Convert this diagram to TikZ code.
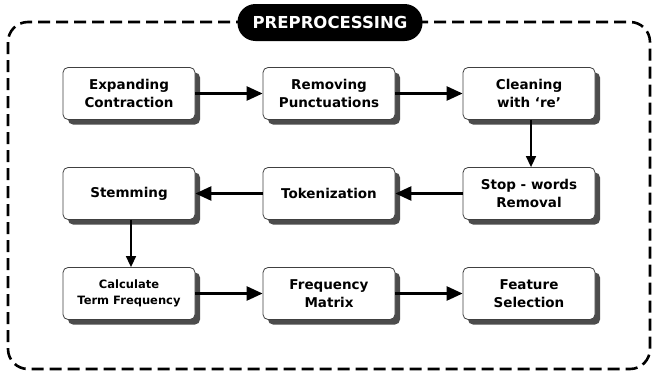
\documentclass[tikz,border=0pt]{standalone}
\usepackage{fontspec}
\setmainfont{DejaVu Sans}
\usetikzlibrary{arrows.meta,shadows,positioning}

\tikzset{
  stepbox/.style={draw=black!75, line width=0.8pt, fill=white, rounded corners=5pt,
    minimum width=132pt, minimum height=52pt, align=center,
    font=\bfseries\fontsize{13.5}{17.5}\selectfont,
    drop shadow={shadow xshift=5pt, shadow yshift=-5pt, fill=black!70, opacity=1}},
  flowh/.style={line width=2.6pt, -{Triangle[length=16pt,width=14pt]}},
  flowv/.style={line width=1.5pt, -{Triangle[length=11pt,width=10pt]}},
  frame/.style={line width=2.6pt, dash pattern=on 12pt off 6pt, rounded corners=20pt},
  titlepill/.style={fill=black, text=white, rounded corners=18pt,
    minimum width=185pt, minimum height=37pt, inner sep=0pt,
    font=\bfseries\fontsize{16.5}{19}\selectfont}
}

\begin{document}
\begin{tikzpicture}[x=1pt,y=-1pt]
  \useasboundingbox (0,0) rectangle (653,375);

  % outer dashed frame and its title
  \draw[frame] (8,22) rectangle (650,369);
  \node[titlepill] (title) at (330,22.5) {PREPROCESSING};

  % first row
  \node[stepbox] (expand) at (129,93.5) {Expanding\\Contraction};
  \node[stepbox] (punct)  at (329,93.5) {Removing\\Punctuations};
  \node[stepbox] (clean)  at (529,93.5) {Cleaning\\with ‘re’};

  % second row
  \node[stepbox] (stem)   at (129,193.5) {Stemming};
  \node[stepbox] (token)  at (329,193.5) {Tokenization};
  \node[stepbox] (stop)   at (529,193.5) {Stop - words\\Removal};

  % third row
  \node[stepbox, font=\bfseries\fontsize{11.5}{15.5}\selectfont] (calc) at (129,293.5) {Calculate\\Term Frequency};
  \node[stepbox] (matrix) at (329,293.5) {Frequency\\Matrix};
  \node[stepbox] (select) at (529,293.5) {Feature\\Selection};

  % connectors
  \draw[flowh] (expand) -- (punct);
  \draw[flowh] (punct) -- (clean);
  \draw[flowv] ([xshift=2pt]clean.south) -- ([xshift=2pt]stop.north);
  \draw[flowh] (stop) -- (token);
  \draw[flowh] (token) -- (stem);
  \draw[flowv] ([xshift=2pt]stem.south) -- ([xshift=2pt]calc.north);
  \draw[flowh] (calc) -- (matrix);
  \draw[flowh] (matrix) -- (select);
\end{tikzpicture}
\end{document}
